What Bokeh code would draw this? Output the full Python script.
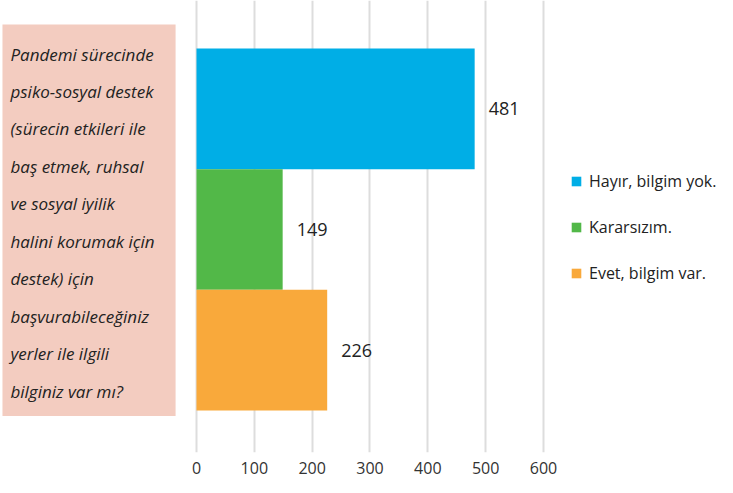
from bokeh.plotting import figure
from bokeh.models import Range1d, FixedTicker, Label, LabelSet, ColumnDataSource, Legend, LegendItem
from bokeh.core.properties import value
from bokeh.embed import file_html
from bokeh.resources import INLINE

question_lines = [
    "Pandemi sürecinde",
    "psiko-sosyal destek",
    "(sürecin etkileri ile",
    "baş etmek, ruhsal",
    "ve sosyal iyilik",
    "halini korumak için",
    "destek) için",
    "başvurabileceğiniz",
    "yerler ile ilgili",
    "bilginiz var mı?",
]
series_names = ["Hayır, bilgim yok.", "Kararsızım.", "Evet, bilgim var."]
series_values = [481, 149, 226]
series_colors = ["#00AEE6", "#52B848", "#F9A93B"]
series_pos = [2, 1, 0]
x_ticks = [0, 100, 200, 300, 400, 500, 600]

FONT = "Open Sans"

p = figure(width=717, height=477, output_backend="svg", toolbar_location=None,
           x_range=Range1d(-338.9, 900.9), y_range=Range1d(-0.848, 2.8975),
           min_border_left=0, min_border_right=0, min_border_top=0, min_border_bottom=25)
p.outline_line_color = None
p.background_fill_color = "white"
p.border_fill_color = "white"

src = ColumnDataSource(dict(y=series_pos, right=series_values, color=series_colors,
                            name=series_names, txt=[str(v) for v in series_values]))
r = p.hbar(y="y", left=0, right="right", height=1, fill_color="color", line_color=None, source=src)

labels = LabelSet(x="right", y="y", text="txt", source=src, x_offset=14,
                  text_baseline="middle", text_align="left", text_font_size=value("18px"),
                  text_color=value("#222222"), text_font=value(FONT))
p.add_layout(labels)

p.xaxis.ticker = FixedTicker(ticks=x_ticks)
p.xaxis.axis_line_color = None
p.xaxis.major_tick_line_color = None
p.xaxis.minor_tick_line_color = None
p.xaxis.major_label_standoff = 3
p.xaxis.major_label_text_font_size = "16px"
p.xaxis.major_label_text_color = "#333333"
p.xaxis.major_label_text_font = FONT
p.xgrid.grid_line_color = "#dddddd"
p.xgrid.grid_line_width = 2
p.xgrid.ticker = FixedTicker(ticks=x_ticks)
p.ygrid.visible = False
p.yaxis.visible = False

q = Label(x=-335.5, y=2.6986, text="\n".join(question_lines),
          text_align="left", text_baseline="top", text_font=FONT, text_font_style="italic",
          text_font_size="17px", text_color="#222222", text_line_height=1.63,
          background_fill_color="#F3CCC0",
          padding=dict(top=18, right=21, bottom=13, left=8))
p.add_layout(q)

items = [LegendItem(label=n, renderers=[r], index=i) for i, n in enumerate(series_names)]
legend = Legend(items=items, location=(570, 168), orientation="vertical",
                glyph_width=12, glyph_height=12, label_standoff=7, label_height=20,
                spacing=24, padding=0, margin=0, border_line_color=None,
                background_fill_alpha=0, label_text_font=FONT, label_text_font_size="16px",
                label_text_color="#222222")
p.add_layout(legend)

open("out.html", "w").write(file_html(p, INLINE))
